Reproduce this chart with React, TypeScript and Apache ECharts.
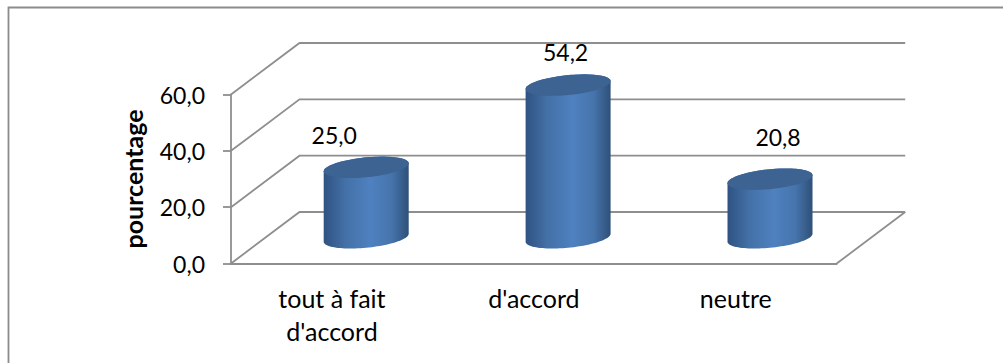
import React, { useEffect, useRef } from "react";
import * as echarts from "echarts";

// Survey answers and their share in percent
const categories = ["tout à fait\nd'accord", "d'accord", "neutre"];
const percentages = [25.0, 54.2, 20.8];
const valueLabels = ["25,0", "54,2", "20,8"];
const wallTicks = [0, 20, 40, 60];

// Pixel shift of each value label from the top centre of its cylinder
const labelShiftX = [-32, -2.5, 8];
const labelShiftY = [-32, -33, -42];

const FONT = "Lato, 'Open Sans', sans-serif";
const LINE = "#8e8e8e";
const LINE_WIDTH = 1.8;
// Offset from the front plane to the back wall of the 3D box
const DEPTH_X = 68.5;
const DEPTH_Y = -51.5;
const RADIUS_X = 42.5;
const RADIUS_Y = 10;
const SKEW = 4;

// Tilted ellipse outline between two angles, as polygon points
function arcPoints(cx: number, cy: number, from: number, to: number) {
  const pts: number[][] = [];
  const steps = 48;
  for (let i = 0; i <= steps; i++) {
    const t = from + ((to - from) * i) / steps;
    pts.push([
      cx + RADIUS_X * Math.cos(t),
      cy + RADIUS_Y * Math.sin(t) - SKEW * Math.cos(t),
    ]);
  }
  return pts;
}

function renderWall(params: any, api: any) {
  const v = api.value(0);
  const y = api.coord([0, v])[1];
  const left = params.coordSys.x;
  const right = left + params.coordSys.width;
  const lineStyle = { stroke: LINE, lineWidth: LINE_WIDTH, fill: "none" };
  const children: any[] = [
    {
      type: "polyline",
      shape: {
        points: [
          [left, y],
          [left + DEPTH_X, y + DEPTH_Y],
          [right + DEPTH_X, y + DEPTH_Y],
        ],
      },
      style: lineStyle,
    },
  ];
  if (v === 0) {
    children.push({
      type: "line",
      shape: { x1: right, y1: y, x2: right + DEPTH_X, y2: y + DEPTH_Y },
      style: lineStyle,
    });
  }
  return { type: "group", children };
}

function renderCylinder(_params: any, api: any) {
  const i = api.value(0);
  const base = api.coord([i, 0]);
  const top = api.coord([i, api.value(1)]);
  const cx = base[0] + DEPTH_X / 2;
  const baseY = base[1] + DEPTH_Y / 2;
  const topY = top[1] + DEPTH_Y / 2;
  const side = [
    ...arcPoints(cx, baseY, 0, Math.PI),
    ...arcPoints(cx, topY, Math.PI, 2 * Math.PI),
  ];
  return {
    type: "group",
    children: [
      {
        type: "polygon",
        shape: { points: side },
        style: {
          fill: new echarts.graphic.LinearGradient(0, 0, 1, 0, [
            { offset: 0, color: "#2f5282" },
            { offset: 0.25, color: "#4370a6" },
            { offset: 0.55, color: "#4f81c0" },
            { offset: 0.8, color: "#4674ac" },
            { offset: 1, color: "#2f5078" },
          ]),
        },
      },
      {
        type: "polygon",
        shape: { points: arcPoints(cx, topY, 0, 2 * Math.PI) },
        style: { fill: "#3c6391" },
      },
      {
        type: "text",
        style: {
          text: valueLabels[i],
          x: cx + labelShiftX[i],
          y: topY + labelShiftY[i],
          align: "center",
          verticalAlign: "middle",
          font: `23px ${FONT}`,
          fill: "#000",
        },
      },
    ],
  };
}

export default function App() {
  const ref = useRef<HTMLDivElement>(null);

  useEffect(() => {
    const chart = echarts.init(ref.current!, undefined, { renderer: "svg" });
    chart.setOption({
      animation: false,
      backgroundColor: "#fff",
      graphic: [
        {
          type: "polyline",
          shape: { points: [[8.5, 363], [8.5, 7.5], [1003, 7.5]] },
          style: { stroke: "#8c8c8c", lineWidth: 1.8, fill: "none" },
        },
      ],
      grid: { left: 231, top: 94.5, width: 605.7, height: 169, containLabel: false },
      xAxis: {
        type: "category",
        data: categories,
        axisLine: { show: true, lineStyle: { color: LINE, width: LINE_WIDTH } },
        axisTick: { show: false },
        axisLabel: {
          color: "#000",
          fontFamily: FONT,
          fontSize: 25,
          lineHeight: 33,
          margin: 18,
          interval: 0,
        },
      },
      yAxis: {
        type: "value",
        min: 0,
        max: 60,
        interval: 20,
        name: "pourcentage",
        nameLocation: "middle",
        nameGap: 86,
        nameRotate: 90,
        nameTextStyle: {
          color: "#000",
          fontFamily: FONT,
          fontSize: 25,
          fontWeight: "bold",
        },
        axisLine: { show: true, lineStyle: { color: LINE, width: LINE_WIDTH } },
        axisTick: { show: true, length: 8, lineStyle: { color: LINE, width: LINE_WIDTH } },
        axisLabel: {
          color: "#000",
          fontFamily: FONT,
          fontSize: 23,
          margin: 26,
          formatter: (v: number) => v.toFixed(1).replace(".", ","),
        },
        splitLine: { show: false },
      },
      series: [
        {
          type: "custom",
          silent: true,
          clip: false,
          z: 1,
          renderItem: renderWall,
          encode: { y: 0 },
          data: wallTicks.map((v) => [v]),
        },
        {
          type: "custom",
          silent: true,
          clip: false,
          z: 2,
          renderItem: renderCylinder,
          encode: { x: 0, y: 1 },
          data: percentages.map((v, i) => [i, v]),
        },
      ],
    });
    return () => chart.dispose();
  }, []);

  return (
    <div
      ref={ref}
      style={{ position: "fixed", left: 0, top: 0, width: 1003, height: 363 }}
    />
  );
}
